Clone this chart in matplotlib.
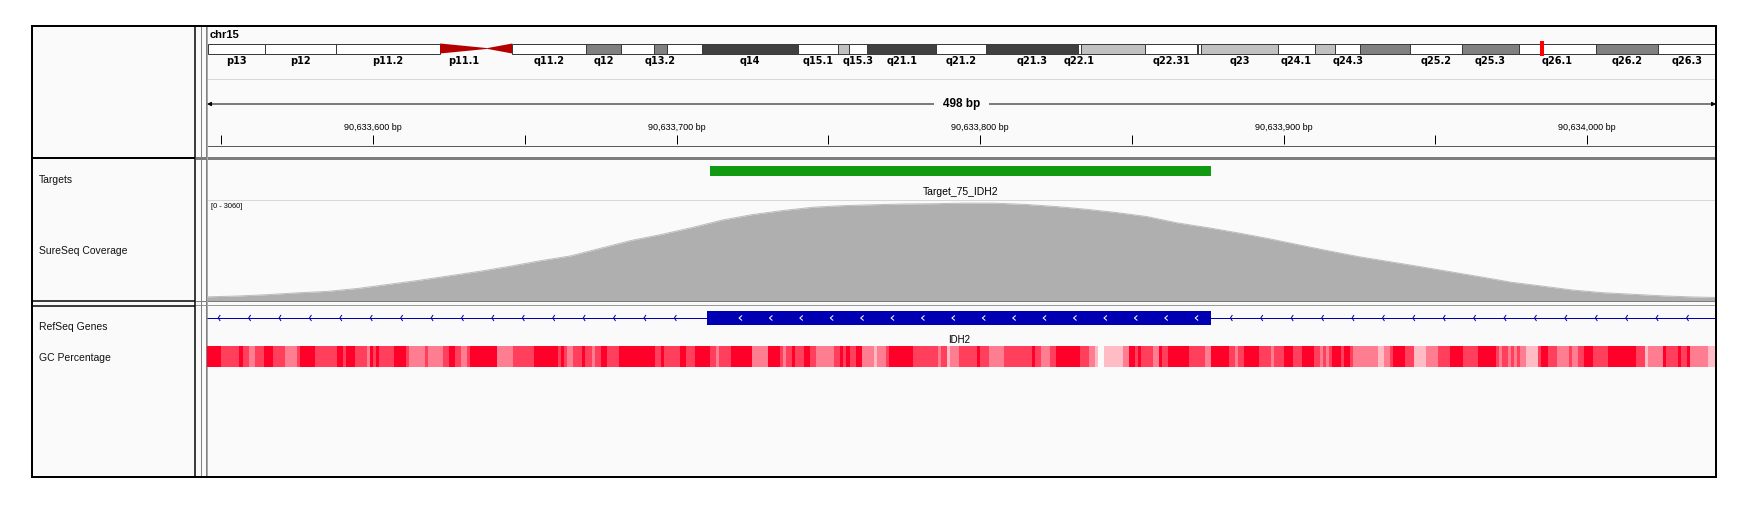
import numpy as np
import matplotlib.pyplot as plt
from matplotlib.patches import Rectangle, Polygon
from matplotlib.collections import LineCollection
from matplotlib.colors import LinearSegmentedColormap

plt.rcParams['font.family'] = ['Liberation Sans', 'DejaVu Sans']

W, H = 1751, 514

# ---- data ----
chrom = "chr15"
chrom_len = 102531392
band_start = [0, 3900000, 8700000, 15800000, 19000000, 20700000, 25700000,
              28100000, 30300000, 31200000, 33600000, 40100000, 42800000,
              43600000, 44800000, 49500000, 52900000, 59100000, 59300000,
              63700000, 67200000, 67300000, 67500000, 72700000, 75200000,
              76600000, 78300000, 81700000, 85200000, 89100000, 94300000,
              98500000]
band_name = ["p13", "p12", "p11.2", "p11.1", "q11.1", "q11.2", "q12", "q13.1",
             "q13.2", "q13.3", "q14", "q15.1", "q15.2", "q15.3", "q21.1",
             "q21.2", "q21.3", "q22.1", "q22.2", "q22.31", "q22.32", "q22.33",
             "q23", "q24.1", "q24.2", "q24.3", "q25.1", "q25.2", "q25.3",
             "q26.1", "q26.2", "q26.3"]
band_stain = ["gvar", "stalk", "gvar", "acen", "acen", "gneg", "gpos50", "gneg",
              "gpos50", "gneg", "gpos75", "gneg", "gpos25", "gneg", "gpos75",
              "gneg", "gpos75", "gneg", "gpos25", "gneg", "gpos25", "gneg",
              "gpos25", "gneg", "gpos25", "gneg", "gpos50", "gneg", "gpos50",
              "gneg", "gpos50", "gneg"]
hidden_labels = ["q11.1", "q13.1", "q13.3", "q15.2", "q22.2", "q22.32",
                 "q22.33", "q24.2", "q25.1"]

view_start = 90633545.3
view_end = view_start + 1509 / 3.035
ruler_text = "498 bp"
tick_step = 50
label_step = 100

target_name = "Target_75_IDH2"
target_start, target_end = 90633711, 90633876

gene_name = "IDH2"
exon_start, exon_end = 90633710, 90633876

cov_max = 3060
cov_base = 90633545
cov_offset = [0, 10, 20, 30, 40, 50, 60, 70, 80, 90, 100, 110, 120, 130, 140,
              150, 160, 170, 180, 190, 200, 210, 220, 230, 240, 250, 260, 270,
              280, 290, 300, 310, 320, 330, 340, 350, 360, 370, 380, 390, 400,
              410, 420, 430, 440, 450, 460, 470, 480, 490, 498]
cov_value = [110, 135, 177, 233, 278, 367, 490, 612, 750, 887, 1040, 1209,
             1356, 1591, 1827, 2010, 2219, 2448, 2616, 2739, 2840, 2889, 2916,
             2938, 2947, 2965, 2962, 2925, 2861, 2778, 2678, 2555, 2362, 2219,
             2059, 1885, 1695, 1509, 1331, 1181, 1031, 875, 719, 557, 441, 321,
             239, 190, 141, 107, 92]

nan = float('nan')
gc_start = [0, 5, 11, 12, 14, 16, 19, 22, 26, 30, 31, 36, 43, 45, 46, 49, 53,
            54, 55, 56, 57, 62, 66, 67, 72, 73, 78, 80, 82, 84, 86, 87, 96, 101,
            108, 116, 117, 118, 119, 121, 124, 125, 127, 128, 130, 132, 136,
            148, 150, 151, 156, 158, 161,
            166, 168, 169, 173, 180, 185, 189, 190, 191, 193, 194, 197, 199,
            201, 207, 209, 210, 211, 212, 214, 216, 220, 221, 224, 225, 233,
            241, 242, 244, 245, 248, 254, 255, 258, 263, 272, 273, 275, 278,
            280, 288, 291, 293, 294, 296, 302, 304, 306, 307, 308, 312, 314,
            315, 317, 324, 329,
            331, 337, 339, 340, 342, 347, 351, 352, 355, 358, 361, 365, 367,
            368, 369, 370, 371, 374, 375, 377, 378, 386, 388, 390, 391, 395,
            398, 402, 406, 410, 414, 419, 425, 426, 427, 429, 430, 431, 432,
            433, 435, 439, 440, 442, 445, 449, 450, 452, 454, 457, 462, 471,
            474, 475, 480, 481, 485, 486, 488, 489, 495]
gc_pct = [70, 60, 70, 60, 50, 60, 70, 60, 50, 60, 70, 60, 70, 60, 70, 60, 50,
          70, 60, 70, 60, 70, 60, 50, 60, 50, 60, 70, 60, 50, 60, 70, 50, 60,
          70, 60, 70, 60, 50, 60, 70, 60, 50, 60, 70, 60, 70,
          60, 70, 60, 70, 60, 70,
          60, 50, 60, 70, 50, 70, 60, 50, 60, 70, 60, 70, 60,
          50, 60, 70, 60, 70, 60, 70, 50, 40, 50, 60, 70, 60,
          50, 60, 40, 50, 60, 70, 60, 50, 60, 70, 60, 50, 60,
          70, 60, 50, 40, nan, 40, 50, 70, 60, 70, 60, 50, 70,
          60, 70, 60, 50,
          70, 60, 50, 60, 70, 60, 50, 60, 70, 60, 70, 60, 50,
          60, 50, 60, 70, 60, 70, 60, 50, 40, 50, 60, 70, 60,
          40, 50, 60, 70, 60, 70, 60, 50, 60, 50, 60, 50, 60,
          50, 40, 60, 70, 60, 50, 60, 50, 60, 70, 60, 70, 60,
          40, 50, 70, 60, 70, 60, 70, 50, 40]
gc_end = 498

track_names = ["Targets", "SureSeq Coverage", "RefSeq Genes", "GC Percentage"]

# ---- styles ----
PANEL = '#fafafa'
BLUE = '#0000b2'
stain_color = {"gneg": "white", "gvar": "white", "stalk": "white",
               "gpos25": "#c0c0c0", "gpos50": "#808080", "gpos75": "#404040",
               "gpos100": "black", "acen": "#b40000"}
PX = 0.72  # points per pixel

fig = plt.figure(figsize=(W / 100, H / 100), dpi=100)
fig.patch.set_facecolor('white')


def px_axes(x0, y0, x1, y1):
    ax = fig.add_axes([x0 / W, 1 - y1 / H, (x1 - x0) / W, (y1 - y0) / H])
    ax.set_axis_off()
    return ax


# ---- background panels ----
bg = px_axes(0, 0, W, H)
bg.set_xlim(0, W)
bg.set_ylim(H, 0)
bg.add_patch(Rectangle((32, 26), 1684, 451, facecolor=PANEL, edgecolor='none'))
bg.add_patch(Rectangle((196, 156.5), 1520, 3, color='#7c7c7c', lw=0))
bg.add_patch(Rectangle((196, 300.5), 1520, 1.5, color='#7c7c7c', lw=0))
bg.add_patch(Rectangle((196, 304.5), 1520, 1.5, color='#9a9a9a', lw=0))
bg.hlines([79, 199.5], 207, 1716, color='#d6d6dc', lw=1 * PX)
bg.hlines(145.5, 207, 1716, color='#5a5a5a', lw=1 * PX)
bg.hlines(158, 32, 195, color='black', lw=2 * PX)
bg.hlines([300.5, 305.5], 32, 195, color='black', lw=1.5 * PX)
bg.vlines(195, 26, 477, color='black', lw=1.5 * PX)
bg.vlines([200.5, 205.5], 26, 477, color='#808080', lw=1 * PX)
bg.vlines(207, 26, 477, color='#a8a8a8', lw=1 * PX)

for name, y in zip(track_names, [180, 250.5, 327, 358]):
    bg.text(39, y, name, fontsize=7.5, va='center', ha='left', color='#111111')
bg.text(210, 35, chrom, fontsize=8, fontweight='bold', va='center', ha='left')
bg.text(211, 207, f"[0 - {cov_max}]", fontsize=5.3, va='center', ha='left')

# ---- ideogram ----
ideo = px_axes(207.5, 38, 1717, 66)
ideo.set_xlim(0, chrom_len)
ideo.set_ylim(66, 38)
band_end = band_start[1:] + [chrom_len]
top, bot = 43.5, 53.5
mid = (top + bot) / 2
for s, e, name, stain in zip(band_start, band_end, band_name, band_stain):
    if stain == "acen":
        if name.startswith("p"):
            pts = [(s, top), (e, mid - 0.4), (e, mid + 0.4), (s, bot)]
        else:
            pts = [(s, mid - 0.4), (e, top), (e, bot), (s, mid + 0.4)]
        ideo.add_patch(Polygon(pts, closed=True, facecolor=stain_color[stain],
                               edgecolor='none'))
    else:
        ideo.bar(s, bot - top, width=e - s, bottom=top, align='edge',
                 color=stain_color[stain], edgecolor='#3a3a3a', lw=1 * PX)
    if name not in hidden_labels:
        ideo.text((s + e) / 2, 60.5, name, ha='center', va='center',
                  fontsize=7, fontweight='bold', family='DejaVu Sans')
view_mid = (view_start + view_end) / 2
ideo.plot([view_mid, view_mid], [41, 56], color='red', lw=4 * PX,
          solid_capstyle='butt')

# ---- ruler ----
ruler = px_axes(207, 80, 1716, 157)
ruler.set_xlim(view_start, view_end)
ruler.set_ylim(157, 80)
ruler.annotate('', xy=(view_start, 104), xytext=(view_end, 104),
               arrowprops=dict(arrowstyle='<|-|>', color='black', lw=1 * PX,
                               mutation_scale=6, shrinkA=0, shrinkB=0))
ruler.text(view_mid, 104, ruler_text, ha='center', va='center', fontsize=8.5,
           fontweight='bold',
           bbox=dict(facecolor=PANEL, edgecolor='none', pad=6))
first_tick = int(np.ceil(view_start / tick_step) * tick_step)
ticks = np.arange(first_tick, view_end, tick_step)
ruler.vlines(ticks, 135, 144, color='black', lw=1 * PX)
for t in ticks:
    if t % label_step == 0:
        ruler.text(t, 127, f"{int(t):,} bp", ha='center', va='center',
                   fontsize=6.5)

# ---- targets ----
tgt = px_axes(207, 160, 1716, 199)
tgt.set_xlim(view_start, view_end)
tgt.set_ylim(199, 160)
tgt.bar(target_start, 10, width=target_end - target_start, bottom=165.5,
        align='edge', color='#129912', lw=0)
tgt.text((target_start + target_end) / 2, 192, target_name, ha='center',
         va='center', fontsize=7.5)

# ---- coverage ----
cov = px_axes(207, 200, 1716, 300.5)
cov.set_xlim(view_start, view_end)
cov.set_ylim(0, cov_max)
cov_pos = cov_base + np.array(cov_offset)
cov.fill_between(cov_pos, cov_value, 0, color='#afafaf', lw=0)
cov.plot(cov_pos, cov_value, color='#bdbdbd', lw=1 * PX)

# ---- genes ----
gen = px_axes(207, 306, 1716, 345)
gen.set_xlim(view_start, view_end)
gen.set_ylim(345, 306)
gen.hlines(318, view_start, view_end, color=BLUE, lw=1 * PX)
gen.bar(exon_start, 14, width=exon_end - exon_start, bottom=311,
        align='edge', color=BLUE, lw=0)
bp_px = (view_end - view_start) / 1509
segs = []
for p in list(np.arange(view_start + 3.7, exon_start - 2, 10.02)) + \
        list(np.arange(exon_end + 6.5, view_end - 2, 10.02)):
    segs.append([(p + 2 * bp_px, 315), (p, 318), (p + 2 * bp_px, 321)])
gen.add_collection(LineCollection(segs, colors=BLUE, lw=1 * PX))
segs = []
for p in np.arange(exon_start + 10.6, exon_end - 2, 10.02):
    segs.append([(p + 3 * bp_px, 315.5), (p, 318), (p + 3 * bp_px, 320.5)])
gen.add_collection(LineCollection(segs, colors='white', lw=1 * PX))
gen.text((exon_start + exon_end) / 2, 340, gene_name, ha='center',
         va='center', fontsize=7)

# ---- GC percentage ----
gc = px_axes(207, 346, 1716, 367)
gc.set_xlim(view_start, view_end)
gc.set_ylim(0, 1)
gc_cmap = LinearSegmentedColormap.from_list(
    'gc', [(1.0, 188 / 255, 196 / 255), (1.0, 0.0, 40 / 255)])
gc_cmap.set_bad(alpha=0)
edges = cov_base + np.array(gc_start + [gc_end])
vals = np.ma.masked_invalid(np.array(gc_pct, dtype=float))[None, :]
gc.pcolormesh(edges, [0, 1], vals, cmap=gc_cmap, vmin=40, vmax=70,
              shading='flat')

# ---- outer frame ----
top_ax = px_axes(0, 0, W, H)
top_ax.set_xlim(0, W)
top_ax.set_ylim(H, 0)
top_ax.add_patch(Rectangle((32, 26), 1684, 451, fill=False,
                           edgecolor='black', lw=2 * PX))

fig.savefig('out.png', dpi=100, facecolor='white')
